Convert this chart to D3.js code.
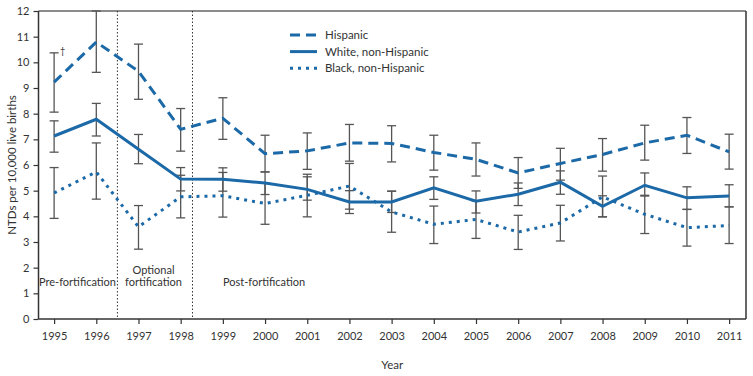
<!DOCTYPE html>
<html>
<head>
<meta charset="utf-8">
<script src="https://cdn.jsdelivr.net/npm/d3@7"></script>
<style>
  body { margin: 0; background: #fff; }
  svg text { font-family: Lato, "Open Sans", sans-serif; fill: #333; }
</style>
</head>
<body>
<svg width="753" height="376"></svg>
<script>
// values
var years = [1995, 1996, 1997, 1998, 1999, 2000, 2001, 2002, 2003, 2004, 2005, 2006, 2007, 2008, 2009, 2010, 2011];
var hispanic     = [9.23, 10.79, 9.65, 7.39, 7.82, 6.44, 6.55, 6.86, 6.84, 6.49, 6.22, 5.69, 6.06, 6.41, 6.86, 7.16, 6.51];
var hispanicLow  = [8.06, 9.61, 8.56, 6.54, 7.0, 5.73, 5.83, 6.15, 6.12, 5.8, 5.57, 5.09, 5.41, 5.76, 6.19, 6.45, 5.84];
var hispanicHigh = [10.37, 12.0, 10.71, 8.2, 8.62, 7.16, 7.25, 7.58, 7.53, 7.16, 6.86, 6.29, 6.65, 7.03, 7.55, 7.85, 7.2];
var white     = [7.13, 7.78, 6.61, 5.45, 5.44, 5.3, 5.05, 4.56, 4.56, 5.11, 4.59, 4.86, 5.33, 4.39, 5.21, 4.72, 4.79];
var whiteLow  = [6.5, 7.13, 6.05, 4.99, 4.98, 4.85, 4.63, 4.11, 4.15, 4.66, 4.13, 4.42, 4.86, 3.98, 4.82, 4.27, 4.37];
var whiteHigh = [7.72, 8.4, 7.19, 5.9, 5.89, 5.73, 5.64, 5.0, 4.98, 5.54, 4.99, 5.3, 5.77, 4.8, 5.69, 5.15, 5.23];
var black     = [4.91, 5.73, 3.59, 4.76, 4.8, 4.5, 4.82, 5.18, 4.17, 3.69, 3.88, 3.39, 3.74, 4.76, 4.08, 3.56, 3.64];
var blackLow  = [3.92, 4.67, 2.72, 3.94, 3.97, 3.69, 3.98, 4.28, 3.38, 2.94, 3.14, 2.71, 3.04, 3.98, 3.33, 2.84, 2.94];
var blackHigh = [5.9, 6.86, 4.42, 5.6, 5.71, 5.3, 5.54, 6.06, 4.98, 4.4, 4.6, 4.04, 4.43, 5.57, 4.79, 4.27, 4.37];
var yTicks = [0, 1, 2, 3, 4, 5, 6, 7, 8, 9, 10, 11, 12];
var periods = [1996.5, 1998.28];

var blue = "#1c69a8";
var svg = d3.select("svg");

var x = d3.scaleLinear().domain([1994.63, 2011.4]).range([38.5, 746]);
var y = d3.scaleLinear().domain([0, 12]).range([319, 11]);

var series = [
  { name: "Hispanic", v: hispanic, lo: hispanicLow, hi: hispanicHigh, dash: "10,6", w: 3 },
  { name: "White, non-Hispanic", v: white, lo: whiteLow, hi: whiteHigh, dash: null, w: 3 },
  { name: "Black, non-Hispanic", v: black, lo: blackLow, hi: blackHigh, dash: "3,5", w: 3 }
];

// frame top / right
svg.append("line").attr("x1", x.range()[0]).attr("x2", x.range()[1])
  .attr("y1", y(12)).attr("y2", y(12)).attr("stroke", "#666").attr("stroke-width", 1.5);
svg.append("line").attr("x1", x.range()[1]).attr("x2", x.range()[1])
  .attr("y1", y(12)).attr("y2", y(0)).attr("stroke", "#333").attr("stroke-width", 1.5);

// period separators
svg.selectAll(".sep").data(periods).enter().append("line")
  .attr("x1", function (d) { return x(d); }).attr("x2", function (d) { return x(d); })
  .attr("y1", y(12)).attr("y2", y(0))
  .attr("stroke", "#333").attr("stroke-width", 1).attr("stroke-dasharray", "1.5,2");

// axes
var yAxis = svg.append("g").attr("transform", "translate(" + x.range()[0] + ",0)")
  .call(d3.axisLeft(y).tickValues(yTicks).tickSize(5).tickPadding(4));
var xAxis = svg.append("g").attr("transform", "translate(0," + y(0) + ")")
  .call(d3.axisBottom(x).tickValues(years).tickFormat(d3.format("d")).tickSize(5).tickPadding(8));
[yAxis, xAxis].forEach(function (g) {
  g.select(".domain").attr("stroke", "#333").attr("stroke-width", 1.5);
  g.selectAll(".tick line").attr("stroke", "#333").attr("stroke-width", 1.2);
  g.selectAll(".tick text").attr("fill", "#333").style("font-size", "11px")
    .style("font-family", "Lato, sans-serif");
});
xAxis.select(".domain").attr("d", "M" + x.range()[0] + ",0H" + x.range()[1]);
yAxis.select(".domain").attr("d", "M0," + y(0) + "V" + y(12));

// error bars
series.forEach(function (s) {
  var g = svg.append("g").attr("stroke", "#555").attr("stroke-width", 1.3);
  years.forEach(function (yr, i) {
    var cx = x(yr);
    g.append("line").attr("x1", cx).attr("x2", cx).attr("y1", y(s.lo[i])).attr("y2", y(s.hi[i]));
    g.append("line").attr("x1", cx - 4.5).attr("x2", cx + 4.5).attr("y1", y(s.lo[i])).attr("y2", y(s.lo[i]));
    g.append("line").attr("x1", cx - 4.5).attr("x2", cx + 4.5).attr("y1", y(s.hi[i])).attr("y2", y(s.hi[i]));
  });
});

// lines
var line = d3.line().x(function (d, i) { return x(years[i]); }).y(function (d) { return y(d); });
series.forEach(function (s) {
  svg.append("path").datum(s.v).attr("d", line)
    .attr("fill", "none").attr("stroke", blue).attr("stroke-width", s.w)
    .attr("stroke-dasharray", s.dash);
});

// dagger
svg.append("text").attr("x", x(1995) + 6).attr("y", y(hispanicHigh[0]) + 1)
  .style("font-size", "9px").text("\u2020");

// legend
var leg = svg.append("g").attr("transform", "translate(290,35)");
series.forEach(function (s, i) {
  var r = leg.append("g").attr("transform", "translate(0," + (i * 16.6) + ")");
  r.append("line").attr("x1", 0).attr("x2", 27).attr("y1", 0).attr("y2", 0)
    .attr("stroke", blue).attr("stroke-width", s.w).attr("stroke-dasharray", s.dash);
  r.append("text").attr("x", 35).attr("y", 4).style("font-size", "11.5px").text(s.name);
});

// period labels
svg.append("text").attr("x", 77.5).attr("y", 286).attr("text-anchor", "middle").style("font-size", "11px").text("Pre-fortification");
var opt = svg.append("text").attr("x", 153.5).attr("y", 273.5).attr("text-anchor", "middle").style("font-size", "11px");
opt.append("tspan").attr("x", 153.5).text("Optional");
opt.append("tspan").attr("x", 153.5).attr("dy", 12.5).text("fortification");
svg.append("text").attr("x", 223).attr("y", 286).style("font-size", "11px").text("Post-fortification");

// axis titles
svg.append("text").attr("x", (x.range()[0] + x.range()[1]) / 2).attr("y", 369)
  .attr("text-anchor", "middle").style("font-size", "11.5px").text("Year");
svg.append("text").attr("transform", "translate(12," + y(6) + ") rotate(-90)")
  .attr("text-anchor", "middle").attr("dy", "0.35em").style("font-size", "11.5px")
  .text("NTDs per 10,000 live births");
</script>
</body>
</html>
